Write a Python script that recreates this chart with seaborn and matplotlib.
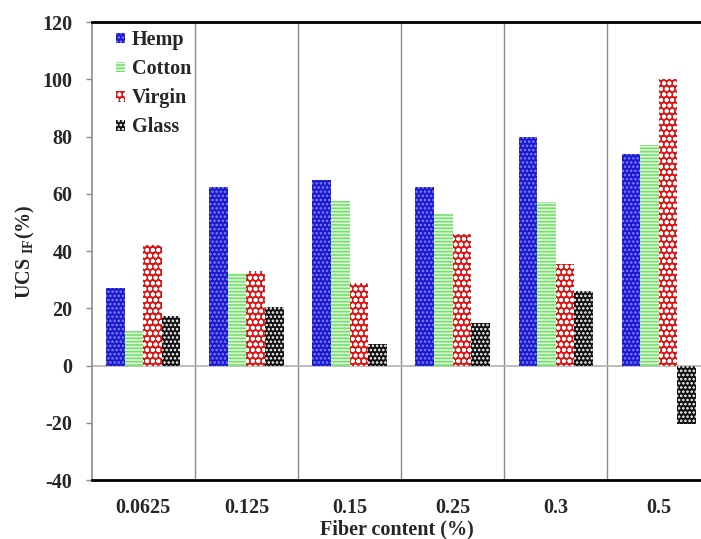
import matplotlib
matplotlib.use("Agg")
import matplotlib.pyplot as plt
import numpy as np
import pandas as pd
import seaborn as sns

fiber_content = ["0.0625", "0.125", "0.15", "0.25", "0.3", "0.5"]
hemp = [27, 62.5, 65, 62.5, 80, 74]
cotton = [12, 32.5, 57.5, 53, 57, 77]
virgin = [42, 33, 29, 46, 35.5, 100]
glass = [17.5, 20.5, 7.5, 15, 26, -20.5]
series = ["Hemp", "Cotton", "Virgin", "Glass"]

df = pd.DataFrame({"Hemp": hemp, "Cotton": cotton, "Virgin": virgin, "Glass": glass},
                  index=fiber_content)
df = df.reset_index().melt(id_vars="index", var_name="fiber", value_name="ucs")
df = df.rename(columns={"index": "content"})

sns.set_style("white")
plt.rcParams["font.family"] = ["Liberation Serif", "DejaVu Serif"]
plt.rcParams["font.weight"] = "bold"
plt.rcParams["axes.unicode_minus"] = False
plt.rcParams["mathtext.fontset"] = "custom"
plt.rcParams["mathtext.bf"] = "Liberation Serif:bold"
plt.rcParams["mathtext.rm"] = "Liberation Serif:bold"
plt.rcParams["hatch.linewidth"] = 1.2

# face colour, hatch colour, hatch pattern
styles = {
    "Hemp": ("#1a1acc", "#8080ff", "...."),
    "Cotton": ("#e4f8dc", "#72e06e", "-----"),
    "Virgin": ("#e01515", "#ffffff", "ooo"),
    "Glass": ("#111111", "#ffffff", "...."),
}
FS = 14.5

fig = plt.figure(figsize=(7.01, 5.39), dpi=100)
ax = fig.add_axes([0.131, 0.109, 0.869, 0.85])

sns.barplot(data=df, x="content", y="ucs", hue="fiber", hue_order=series,
            order=fiber_content, width=0.72, dodge=True, ax=ax, legend=True,
            palette={k: v[0] for k, v in styles.items()}, saturation=1)

for cont, name in zip(ax.containers, series):
    fc, hc, hatch = styles[name]
    for bar in cont:
        bar.set_facecolor(fc)
        bar.set_edgecolor(hc)
        bar.set_hatch(hatch)
        bar.set_linewidth(0)

for x in np.arange(0.5, len(fiber_content) - 0.5, 1):
    ax.axvline(x, color="#8c8c8c", lw=1, zorder=0)
ax.axhline(0, color="#b0b0b0", lw=1.2, zorder=0)

ax.set_ylim(-40, 120)
ax.set_yticks(np.arange(-40, 121, 20))
ax.set_xlim(-0.5, 5.41)

for side in ["top", "bottom"]:
    ax.spines[side].set_color("black")
    ax.spines[side].set_linewidth(2)
ax.spines["left"].set_color("#8c8c8c")
ax.spines["left"].set_linewidth(1.2)
ax.spines["right"].set_visible(False)

ax.tick_params(axis="y", left=True, length=4, width=1, color="#8c8c8c",
               labelsize=FS, pad=10)
ax.tick_params(axis="x", bottom=False, labelsize=FS, pad=9)
for lab in ax.get_xticklabels() + ax.get_yticklabels():
    lab.set_fontweight("bold")

ax.set_xlabel("Fiber content (%)", fontsize=FS, fontweight="bold", labelpad=1)
ax.set_ylabel(r"UCS $_{\mathbf{IF}}$(%)", fontsize=FS, fontweight="bold", labelpad=4)

leg = ax.legend(loc="upper left", bbox_to_anchor=(0.026, 1.0), frameon=False,
                prop={"family": "Liberation Serif", "weight": "bold", "size": FS},
                handlelength=0.45, handleheight=0.45, handletextpad=0.35,
                labelspacing=0.45, borderaxespad=0.0)
for h, name in zip(leg.legend_handles, series):
    fc, hc, hatch = styles[name]
    h.set_facecolor(fc)
    h.set_edgecolor(hc)
    h.set_hatch(hatch)
    h.set_linewidth(0)

fig.savefig("out.png", dpi=100)
